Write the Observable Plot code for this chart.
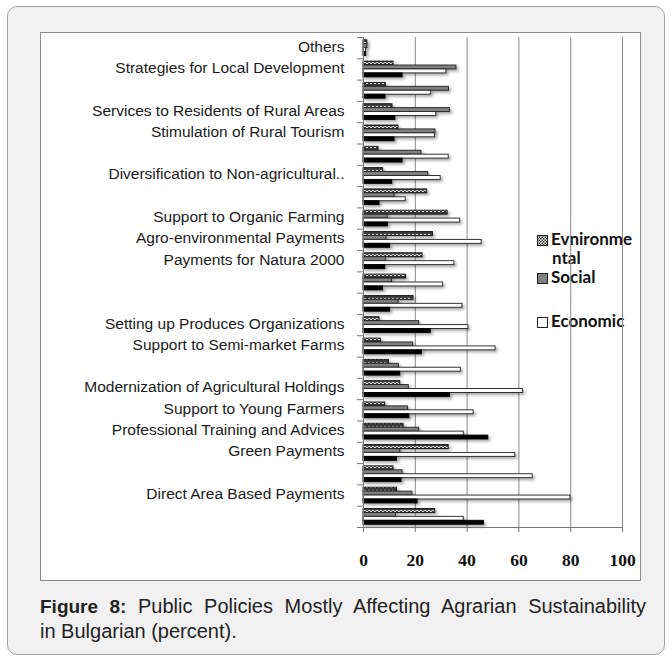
<!DOCTYPE html>
<html><head><meta charset="utf-8">
<script src="https://cdn.jsdelivr.net/npm/d3@7"></script>
<script src="https://cdn.jsdelivr.net/npm/@observablehq/plot@0.6"></script>
<style>
body{margin:0;background:#fff;font-family:"Liberation Sans",Arial,sans-serif;}
#card{position:absolute;left:7px;top:6px;width:656px;height:647px;border:1px solid #a0a0a0;border-radius:10px;background:#f1f1f1;}
#box{position:absolute;left:40px;top:32px;width:599px;height:547px;border:1px solid #8c8c8c;background:#fff;}
#chart{position:absolute;left:0;top:0;z-index:1;}
#chart svg{background:transparent;}
.lg{position:absolute;z-index:0;font-family:Lato,"Open Sans",sans-serif;font-weight:bold;font-size:17px;color:#111;white-space:nowrap;line-height:18px;}
.sw{display:inline-block;width:11px;height:11px;border:1px solid #222;margin-right:3px;vertical-align:-1px;box-sizing:border-box;}
#caption{position:absolute;left:40px;top:594px;width:606px;font-family:"Liberation Sans",Arial,sans-serif;font-size:20px;line-height:24px;color:#222;}
#caption .l1{text-align:justify;text-align-last:justify;white-space:nowrap;}
#caption b{font-size:19px;}
</style></head>
<body>
<div id="card"></div>
<div id="box">
  <div id="chart"></div>
  <div class="lg" style="left:496px;top:197px;"><svg class="sw" width="11" height="11" style="border:none"><rect x="0.5" y="0.5" width="10" height="10" fill="url(#hatchL)" stroke="#222"/><defs><pattern id="hatchL" patternUnits="userSpaceOnUse" width="3" height="3"><rect width="3" height="3" fill="#fff"/><rect width="1.5" height="1.5" fill="#333"/><rect x="1.5" y="1.5" width="1.5" height="1.5" fill="#333"/></pattern></defs></svg>Evnironme</div>
  <div class="lg" style="left:511px;top:216px;">ntal</div>
  <div class="lg" style="left:496px;top:235px;"><span class="sw" style="background:#808080"></span>Social</div>
  <div class="lg" style="left:496px;top:279px;"><span class="sw" style="background:#fff"></span>Economic</div>
</div>
<div id="caption"><div class="l1"><b>Figure 8:</b> Public Policies Mostly Affecting Agrarian Sustainability</div><div>in Bulgarian (percent).</div></div>
<script>
const categories = ["Others","Strategies for Local Development","","Services to Residents of Rural Areas","Stimulation of Rural Tourism","","Diversification to Non-agricultural..","","Support to Organic Farming","Agro-environmental Payments","Payments for Natura 2000","","","Setting up Produces Organizations","Support to Semi-market Farms","","Modernization of Agricultural Holdings","Support to Young Farmers","Professional Training and Advices","Green Payments","","Direct Area Based Payments",""];
const environmental = [1.5,11.6,8.6,11.2,13.5,5.8,7.6,24.6,32.5,26.8,22.8,16.4,19.3,6.2,6.7,9.8,14.2,8.4,15.5,32.9,11.6,12.9,27.7];
const social = [1.5,35.9,33,33.4,27.8,22.4,25,12,9.3,8.9,8.6,11,13.5,21.5,19.2,13.7,17.5,17.2,21.5,14.2,15.1,18.9,12.5];
const economic = [1,32,26,28.1,27.6,32.9,29.8,16.3,37.3,45.6,35.1,30.7,38.2,40.5,51,37.6,61.6,42.5,38.7,58.6,65.3,79.9,38.7];
const fourth = [1,15.1,8.5,12.3,12,15.1,11.1,6.2,9.4,10.3,8.4,7.5,10.3,26,22.6,14.2,33.4,17.7,48.2,12.9,14.7,20.9,46.5];
const seriesNames = ["Evnironmental","Social","Economic","Other"];
const xTicks = [0,20,40,60,80,100];

const seriesValues = [environmental, social, economic, fourth];
const seriesFill = ["url(#hatch)", "#808080", "#ffffff", "#000000"];
const seriesStroke = ["#111", "#222", "#222", "#000"];
const pad = 0.13, bh = 0.185;

const n = categories.length;
const rows = seriesValues.map((vals, k) => vals.map((v, i) => ({cat: i, series: seriesNames[k], k, value: v})));

const marks = [
  Plot.gridX(xTicks.filter(d => d > 0), {stroke: "#8a8a8a", strokeOpacity: 1, strokeWidth: 1}),
  ...rows.map((data, k) => Plot.rect(data, {
    x1: () => 0, x2: "value",
    y1: d => d.cat + pad + d.k * bh,
    y2: d => d.cat + pad + (d.k + 1) * bh,
    fill: seriesFill[k], stroke: seriesStroke[k], strokeWidth: 0.9
  })),
  Plot.ruleX([0], {stroke: "#777"}),
  Plot.ruleY([n], {stroke: "#777"}),
  Plot.axisY({ticks: d3.range(0, n + 1), tickSize: 6, tickFormat: () => "", stroke: "#777", label: null}),
  Plot.axisY({ticks: categories.map((_, i) => i + 0.5), tickSize: 0, tickPadding: 19, dy: -1.5,
    tickFormat: d => categories[Math.round(d - 0.5)], fontSize: 15.5, fill: "#1a1a1a", label: null,
    fontFamily: "'Liberation Sans', Arial, sans-serif"}),
  Plot.axisX({ticks: xTicks, tickSize: 5, tickPadding: 21, stroke: "#777", fontSize: 17.5, fontWeight: "bold",
    fontFamily: "'Liberation Serif', 'DejaVu Serif', serif", fill: "#111", label: null, tickFormat: d => String(d)})
];

const chart = Plot.plot({
  width: 598, height: 546,
  marginLeft: 322, marginRight: 17, marginTop: 4, marginBottom: 52,
  x: {domain: [0, 100]},
  y: {domain: [0, n], reverse: true},
  style: {background: "transparent", overflow: "visible"},
  marks
});

const svg = d3.select(chart);
const defs = svg.insert("defs", ":first-child");
const p = defs.append("pattern").attr("id", "hatch").attr("patternUnits", "userSpaceOnUse").attr("width", 4).attr("height", 4);
p.append("rect").attr("width", 4).attr("height", 4).attr("fill", "#3a3a3a");
p.append("path").attr("d", "M0,0.8 L2,3 L4,0.8").attr("stroke", "#fff").attr("fill", "none").attr("stroke-width", 0.9);
svg.selectAll('g[aria-label="rect"]').style("filter", "drop-shadow(2px 2px 1.5px rgba(0,0,0,0.35))");

document.getElementById("chart").appendChild(chart);
</script>
</body></html>
